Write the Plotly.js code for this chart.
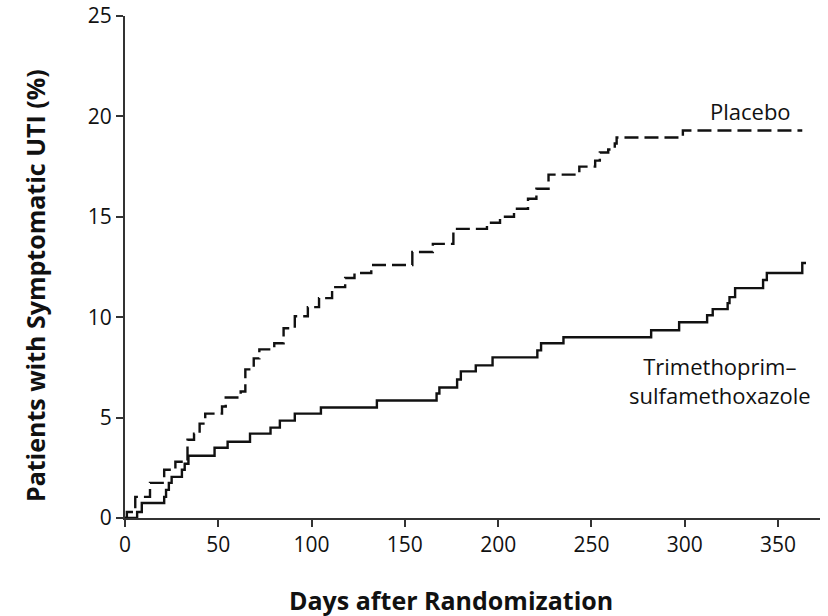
<!DOCTYPE html>
<html>
<head>
<meta charset="utf-8">
<script src="https://cdn.plot.ly/plotly-3.0.1.min.js"></script>
<style>html,body{margin:0;padding:0;background:#fff;}#chart{width:828px;height:616px;}</style>
</head>
<body>
<div id="chart"></div>
<script>
// Cumulative percentage of patients with symptomatic UTI (step curves)
const placeboDays = [0,1,5.5,13.4,21,27,33.5,37,40,43,52,54,62,64.5,69,72,80,85,91,98,104,111,118,123,132,154,165,176,194,201,208.5,216,220.5,227,243.5,252,254.5,259,262.5,263.5,299,363];
const placeboPct  = [0,0.3,1.05,1.75,2.4,2.8,3.9,4.2,4.7,5.2,5.55,6.0,6.3,7.4,7.95,8.4,8.7,9.45,10.05,10.5,10.95,11.5,11.95,12.2,12.6,13.25,13.65,14.4,14.7,15.0,15.4,15.9,16.4,17.1,17.5,17.8,18.2,18.35,18.65,18.95,19.3,19.3];

const tmpDays = [0,6.5,9,21,22,23.5,25,30.5,32,34,48,55,67,78,83,91,105,135,167,168.5,178,180,188,197,221,223,235,282,297,312,315,323,324,327,342,344,363,365];
const tmpPct  = [0,0.3,0.75,1.05,1.4,1.75,2.05,2.4,2.7,3.1,3.5,3.8,4.2,4.5,4.85,5.2,5.5,5.85,6.2,6.5,6.9,7.3,7.6,8.0,8.35,8.7,9.0,9.35,9.75,10.1,10.4,10.7,11.0,11.45,11.85,12.2,12.7,12.7];

const xTicks = [0,50,100,150,200,250,300,350];
const yTicks = [0,5,10,15,20,25];

const seriesNames = ["Placebo", "Trimethoprim–<br>sulfamethoxazole"];
const xTitle = "Days after Randomization";
const yTitle = "Patients with Symptomatic UTI (%)";

const FONT = '"Open Sans", "Noto Sans", sans-serif';

const traces = [
  {
    x: placeboDays, y: placeboPct, type: 'scatter', mode: 'lines',
    line: {shape: 'hv', color: '#111', width: 2.4, dash: '14px,6px'},
    name: 'Placebo', hoverinfo: 'x+y'
  },
  {
    x: tmpDays, y: tmpPct, type: 'scatter', mode: 'lines',
    line: {shape: 'hv', color: '#111', width: 2.4},
    name: 'Trimethoprim–sulfamethoxazole', hoverinfo: 'x+y'
  }
];

const axisCommon = {
  showgrid: false, zeroline: false, showline: true,
  linecolor: '#333', linewidth: 2,
  ticks: 'outside', ticklen: 7, tickwidth: 2, tickcolor: '#333',
  tickfont: {family: FONT, size: 21, color: '#111'}
};

const layout = {
  width: 828, height: 616,
  margin: {l: 125, r: 8, t: 16, b: 98},
  paper_bgcolor: '#fff', plot_bgcolor: '#fff',
  showlegend: false,
  font: {family: FONT, color: '#111'},
  xaxis: Object.assign({}, axisCommon, {
    range: [0, 372.5], tickvals: xTicks, ticktext: xTicks.map(String)
  }),
  yaxis: Object.assign({}, axisCommon, {
    range: [0, 25], tickvals: yTicks, ticktext: yTicks.map(String)
  }),
  annotations: [
    {text: seriesNames[0], x: 0, y: 0, xref: 'x', yref: 'y', showarrow: false,
     font: {family: FONT, size: 22, color: '#111'}, xanchor: 'center', yanchor: 'middle'},
    {text: seriesNames[1], x: 0, y: 0, xref: 'x', yref: 'y', showarrow: false, align: 'center',
     font: {family: FONT, size: 22, color: '#111'}, xanchor: 'center', yanchor: 'middle'},
    {text: '<b>' + xTitle + '</b>', x: 0.469, y: -0.163, xref: 'paper', yref: 'paper', showarrow: false,
     font: {family: FONT, size: 25, color: '#111'}, xanchor: 'center', yanchor: 'middle'},
    {text: '<b>' + yTitle + '</b>', x: -0.1295, y: 0.464, xref: 'paper', yref: 'paper', showarrow: false,
     textangle: -90, font: {family: FONT, size: 25, color: '#111'}, xanchor: 'center', yanchor: 'middle'}
  ]
};
// label positions converted from pixel positions to data units
layout.annotations[0].x = (751 - 125) / 1.866;
layout.annotations[0].y = (518 - 111) / 20.08;
layout.annotations[1].x = (720 - 125) / 1.866;
layout.annotations[1].y = (518 - 380) / 20.08;

Plotly.newPlot('chart', traces, layout, {displayModeBar: false, staticPlot: true});
</script>
</body>
</html>
